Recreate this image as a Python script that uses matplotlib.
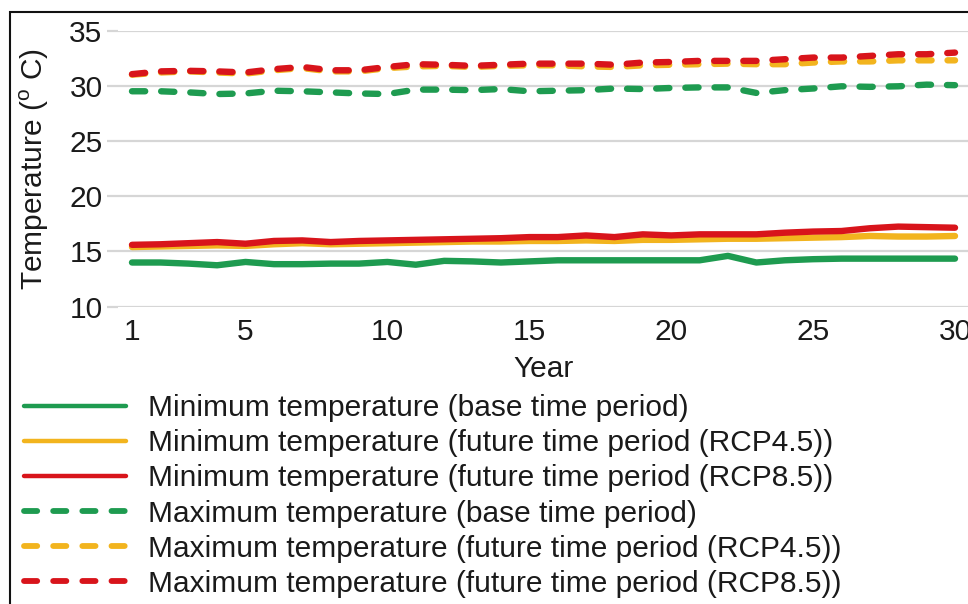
import matplotlib
matplotlib.use("Agg")
import matplotlib.pyplot as plt
from matplotlib.patches import Rectangle

plt.rcParams['font.family'] = ['Liberation Sans', 'DejaVu Sans']
plt.rcParams['mathtext.fontset'] = 'custom'
plt.rcParams['mathtext.rm'] = 'Liberation Sans'
plt.rcParams['lines.scale_dashes'] = False

years = list(range(1, 31))
x_ticks = [1, 5, 10, 15, 20, 25, 30]
y_ticks = [10, 15, 20, 25, 30, 35]

min_base = [14.0, 14.0, 13.9, 13.75, 14.05, 13.85, 13.85, 13.9, 13.9, 14.05,
            13.8, 14.15, 14.1, 14.0, 14.1, 14.2, 14.2, 14.2, 14.2, 14.2,
            14.2, 14.6, 14.0, 14.2, 14.3, 14.35, 14.35, 14.35, 14.35, 14.35]
min_rcp45 = [15.4, 15.45, 15.5, 15.55, 15.5, 15.65, 15.75, 15.65, 15.7, 15.75,
             15.8, 15.85, 15.9, 15.9, 15.95, 15.95, 16.0, 15.95, 16.05, 16.05,
             16.1, 16.15, 16.15, 16.2, 16.25, 16.3, 16.4, 16.35, 16.35, 16.4]
min_rcp85 = [15.6, 15.65, 15.75, 15.85, 15.7, 15.95, 16.0, 15.85, 15.95, 16.0,
             16.05, 16.1, 16.15, 16.2, 16.3, 16.3, 16.45, 16.3, 16.55, 16.45,
             16.55, 16.55, 16.55, 16.7, 16.8, 16.85, 17.1, 17.25, 17.2, 17.15]
max_base = [29.5, 29.5, 29.4, 29.25, 29.3, 29.55, 29.5, 29.4, 29.3, 29.25,
            29.65, 29.65, 29.6, 29.7, 29.5, 29.55, 29.6, 29.75, 29.7, 29.8,
            29.85, 29.85, 29.35, 29.6, 29.75, 29.95, 29.9, 29.95, 30.1, 30.05]
max_rcp45 = [31.0, 31.2, 31.3, 31.2, 31.1, 31.4, 31.6, 31.3, 31.3, 31.6,
             31.75, 31.8, 31.7, 31.8, 31.85, 31.85, 31.75, 31.7, 31.85, 31.9,
             31.95, 32.0, 31.95, 31.95, 32.1, 32.2, 32.2, 32.3, 32.3, 32.3]
max_rcp85 = [31.05, 31.3, 31.35, 31.3, 31.2, 31.5, 31.7, 31.4, 31.4, 31.7,
             31.95, 31.9, 31.8, 31.9, 32.0, 32.0, 32.0, 31.9, 32.1, 32.15,
             32.25, 32.25, 32.25, 32.4, 32.55, 32.55, 32.7, 32.85, 32.85, 33.0]

labels = [
    "Minimum temperature (base time period)",
    "Minimum temperature (future time period (RCP4.5))",
    "Minimum temperature (future time period (RCP8.5))",
    "Maximum temperature (base time period)",
    "Maximum temperature (future time period (RCP4.5))",
    "Maximum temperature (future time period (RCP8.5))",
]

green = '#1e9b50'
yellow = '#f2b41e'
red = '#d8141b'
txt = '#1a1a1a'

W, H = 968, 604
fig = plt.figure(figsize=(W / 100, H / 100), dpi=100)
ax = fig.add_axes([117.8 / W, 1 - 306.7 / H, 851.4 / W, 276.2 / H])

lw = 4.6
dash = (0, (9.5, 11.5))
ax.plot(years, min_base, color=green, lw=lw, label=labels[0], solid_capstyle='round')
ax.plot(years, min_rcp45, color=yellow, lw=lw, label=labels[1], solid_capstyle='round')
ax.plot(years, min_rcp85, color=red, lw=lw, label=labels[2], solid_capstyle='round')
ax.plot(years, max_base, color=green, lw=lw, ls=dash, label=labels[3], dash_capstyle='round')
ax.plot(years, max_rcp45, color=yellow, lw=lw, ls=dash, label=labels[4], dash_capstyle='round')
ax.plot(years, max_rcp85, color=red, lw=lw, ls=dash, label=labels[5], dash_capstyle='round')

ax.set_xlim(0.5, 30.5)
ax.set_ylim(10, 35)
ax.set_xticks(x_ticks)
ax.set_yticks(y_ticks)
ax.grid(axis='y', color='#d6d6d6', lw=1.6)
ax.set_axisbelow(True)
for s in ax.spines.values():
    s.set_visible(False)
ax.tick_params(axis='y', length=8, color='#d6d6d6', width=1.6, pad=3, labelsize=21.5, labelcolor=txt)
ax.tick_params(axis='x', length=0, pad=8, labelsize=21.5, labelcolor=txt)

ax.set_xlabel("Year", fontsize=21.5, color=txt, labelpad=6.5)
ax.set_ylabel(r"Temperature ($^\mathrm{o}$ C)", fontsize=21.5, color=txt, labelpad=13.5)

leg = fig.legend(loc='upper left', bbox_to_anchor=(24 / W, 1 - 394 / H),
                 frameon=False, fontsize=21.5, handlelength=3.4, handletextpad=0.75,
                 labelspacing=0.24, borderpad=0, borderaxespad=0)
for t in leg.get_texts():
    t.set_color(txt)
for i, l in enumerate(leg.get_lines()):
    l.set_linewidth(3.2 if i < 3 else 4.2)

# black frame of the original figure (cropped at right and bottom)
fig.patches.append(Rectangle((10 / W, -0.1), 1.2, 1.1 - 12 / H,
                             transform=fig.transFigure, fill=False,
                             edgecolor='#111111', lw=1.5))

fig.savefig("out.png", dpi=100)
